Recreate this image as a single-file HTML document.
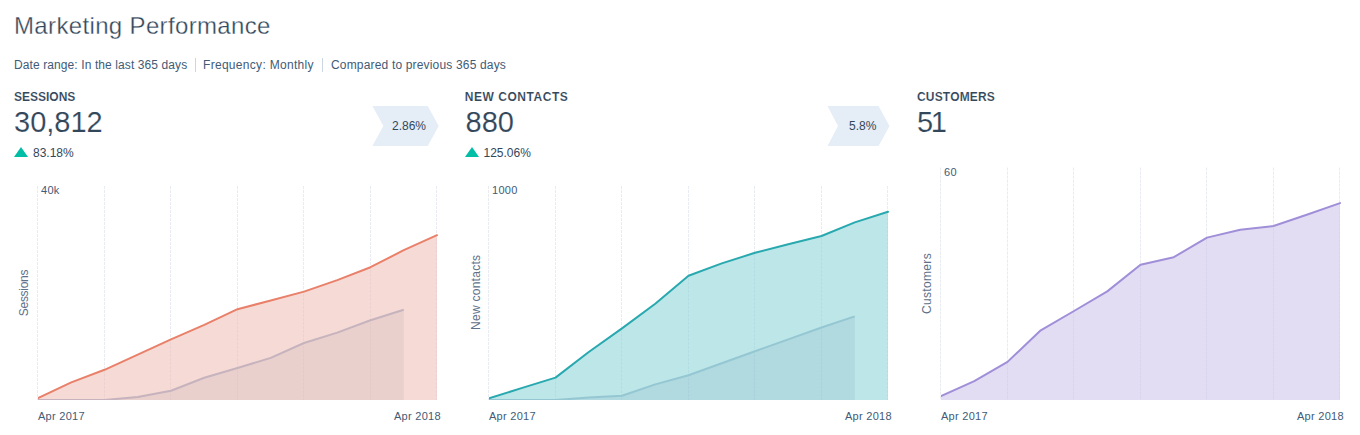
<!DOCTYPE html>
<html><head><meta charset="utf-8">
<style>
*{margin:0;padding:0;box-sizing:border-box}
html,body{width:1360px;height:435px;overflow:hidden;background:#fff}
body{font-family:"Liberation Sans",sans-serif;color:#33475b;position:relative}
.a{position:absolute;white-space:nowrap;line-height:1}
.title{left:14px;top:14px;font-size:24px;color:#33475b;letter-spacing:0.35px;-webkit-text-stroke:0.3px #fff}
.filt{top:59px;font-size:12px;color:#425b76}
.sep{position:absolute;top:58px;width:1px;height:14px;background:#cbd6e2}
.lbl{top:91px;font-size:12px;font-weight:bold;color:#33475b;-webkit-text-stroke:0.1px #fff}
.big{top:108px;font-size:29px;color:#33475b;-webkit-text-stroke:0.15px #fff}
.pct{top:147px;font-size:12px;color:#33475b}
.tri{position:absolute;top:147px;width:0;height:0;border-left:7px solid transparent;border-right:7px solid transparent;border-bottom:10px solid #00bda5}
.chev{position:absolute;top:106px;height:40px}
.ctext{top:120px;font-size:12px;color:#33475b}
.ax{font-size:11px;color:#425b76;letter-spacing:0.28px}
.ytitle{font-size:12px;color:#5d718a;transform:rotate(-90deg);transform-origin:center center}
svg{position:absolute;left:0;top:0}
</style></head><body>
<svg width="1360" height="435" viewBox="0 0 1360 435">
<polygon points="372.4,106 427.7,106 438.7,126 427.7,146 372.4,146 383.4,126" fill="#e5edf6"/>
<polygon points="827.5,106 878.5,106 889.5,126 878.5,146 827.5,146 838,126" fill="#e5edf6"/>
<clipPath id="cp0"><rect x="38" y="0" width="440" height="400"/></clipPath>
<line x1="37.5" y1="186" x2="37.5" y2="400" stroke="#e8ecf2" stroke-width="1" stroke-dasharray="3,1"/>
<line x1="104.5" y1="186" x2="104.5" y2="400" stroke="#e8ecf2" stroke-width="1" stroke-dasharray="3,1"/>
<line x1="170.5" y1="186" x2="170.5" y2="400" stroke="#e8ecf2" stroke-width="1" stroke-dasharray="3,1"/>
<line x1="237.5" y1="186" x2="237.5" y2="400" stroke="#e8ecf2" stroke-width="1" stroke-dasharray="3,1"/>
<line x1="303.5" y1="186" x2="303.5" y2="400" stroke="#e8ecf2" stroke-width="1" stroke-dasharray="3,1"/>
<line x1="370.5" y1="186" x2="370.5" y2="400" stroke="#e8ecf2" stroke-width="1" stroke-dasharray="3,1"/>
<line x1="436.5" y1="186" x2="436.5" y2="400" stroke="#e8ecf2" stroke-width="1" stroke-dasharray="3,1"/>
<g clip-path="url(#cp0)">
<path d="M38.0,398.1 L71.25,382.4 L104.5,369.8 L137.75,354.6 L171.0,339.3 L204.25,324.9 L237.5,309.2 L270.75,300.5 L304.0,291.6 L337.25,280.1 L370.5,267.2 L403.75,250.2 L437.0,235.2 L437.0,400 L38.0,400 Z" fill="rgb(237,181,171)" fill-opacity="0.5"/>
<path d="M38.0,400 L71.25,400 L104.5,400 L137.75,397.1 L171.0,390.7 L204.25,377.8 L237.5,368.0 L270.75,357.9 L304.0,343.0 L337.25,332.6 L370.5,320.2 L403.75,309.8 L403.75,400 L38.0,400 Z" fill="rgba(212,192,192,0.38)"/>
<path d="M38.0,400 L71.25,400 L104.5,400 L137.75,397.1 L171.0,390.7 L204.25,377.8 L237.5,368.0 L270.75,357.9 L304.0,343.0 L337.25,332.6 L370.5,320.2 L403.75,309.8" fill="none" stroke="#c6b3bd" stroke-width="2" stroke-linejoin="round"/>
<path d="M38.0,398.1 L71.25,382.4 L104.5,369.8 L137.75,354.6 L171.0,339.3 L204.25,324.9 L237.5,309.2 L270.75,300.5 L304.0,291.6 L337.25,280.1 L370.5,267.2 L403.75,250.2 L437.0,235.2" fill="none" stroke="#e8806a" stroke-width="2" stroke-linejoin="round" stroke-linecap="round"/>
</g>
<clipPath id="cp1"><rect x="489" y="0" width="440" height="400"/></clipPath>
<line x1="488.5" y1="186" x2="488.5" y2="400" stroke="#e8ecf2" stroke-width="1" stroke-dasharray="3,1"/>
<line x1="555.5" y1="186" x2="555.5" y2="400" stroke="#e8ecf2" stroke-width="1" stroke-dasharray="3,1"/>
<line x1="621.5" y1="186" x2="621.5" y2="400" stroke="#e8ecf2" stroke-width="1" stroke-dasharray="3,1"/>
<line x1="688.5" y1="186" x2="688.5" y2="400" stroke="#e8ecf2" stroke-width="1" stroke-dasharray="3,1"/>
<line x1="754.5" y1="186" x2="754.5" y2="400" stroke="#e8ecf2" stroke-width="1" stroke-dasharray="3,1"/>
<line x1="821.5" y1="186" x2="821.5" y2="400" stroke="#e8ecf2" stroke-width="1" stroke-dasharray="3,1"/>
<line x1="887.5" y1="186" x2="887.5" y2="400" stroke="#e8ecf2" stroke-width="1" stroke-dasharray="3,1"/>
<g clip-path="url(#cp1)">
<path d="M489.0,398.3 L522.25,387.9 L555.5,377.6 L588.75,352.0 L622.0,328.4 L655.25,303.8 L688.5,275.8 L721.75,263.4 L755.0,252.8 L788.25,244.2 L821.5,236.0 L854.75,222.4 L888.0,211.8 L888.0,400 L489.0,400 Z" fill="rgb(123,205,209)" fill-opacity="0.5"/>
<path d="M489.0,400 L522.25,400 L555.5,400 L588.75,397.6 L622.0,395.8 L655.25,384.4 L688.5,375.3 L721.75,363.2 L755.0,351.2 L788.25,339.4 L821.5,327.5 L854.75,316.4 L854.75,400 L489.0,400 Z" fill="rgba(150,190,205,0.3)"/>
<path d="M489.0,400 L522.25,400 L555.5,400 L588.75,397.6 L622.0,395.8 L655.25,384.4 L688.5,375.3 L721.75,363.2 L755.0,351.2 L788.25,339.4 L821.5,327.5 L854.75,316.4" fill="none" stroke="#95c7d3" stroke-width="2" stroke-linejoin="round"/>
<path d="M489.0,398.3 L522.25,387.9 L555.5,377.6 L588.75,352.0 L622.0,328.4 L655.25,303.8 L688.5,275.8 L721.75,263.4 L755.0,252.8 L788.25,244.2 L821.5,236.0 L854.75,222.4 L888.0,211.8" fill="none" stroke="#28a8af" stroke-width="2" stroke-linejoin="round" stroke-linecap="round"/>
</g>
<clipPath id="cp2"><rect x="941" y="0" width="440" height="400"/></clipPath>
<line x1="940.5" y1="167.6" x2="940.5" y2="400" stroke="#e8ecf2" stroke-width="1" stroke-dasharray="3,1"/>
<line x1="1007.5" y1="167.6" x2="1007.5" y2="400" stroke="#e8ecf2" stroke-width="1" stroke-dasharray="3,1"/>
<line x1="1073.5" y1="167.6" x2="1073.5" y2="400" stroke="#e8ecf2" stroke-width="1" stroke-dasharray="3,1"/>
<line x1="1140.5" y1="167.6" x2="1140.5" y2="400" stroke="#e8ecf2" stroke-width="1" stroke-dasharray="3,1"/>
<line x1="1206.5" y1="167.6" x2="1206.5" y2="400" stroke="#e8ecf2" stroke-width="1" stroke-dasharray="3,1"/>
<line x1="1273.5" y1="167.6" x2="1273.5" y2="400" stroke="#e8ecf2" stroke-width="1" stroke-dasharray="3,1"/>
<line x1="1339.5" y1="167.6" x2="1339.5" y2="400" stroke="#e8ecf2" stroke-width="1" stroke-dasharray="3,1"/>
<g clip-path="url(#cp2)">
<path d="M941.0,396.0 L974.25,381.1 L1007.5,361.9 L1040.75,330.3 L1074.0,311.0 L1107.25,291.4 L1140.5,264.8 L1173.75,257.2 L1207.0,237.6 L1240.25,229.7 L1273.5,226.0 L1306.75,214.8 L1340.0,203.1 L1340.0,400 L941.0,400 Z" fill="rgb(197,187,231)" fill-opacity="0.5"/>
<path d="M941.0,396.0 L974.25,381.1 L1007.5,361.9 L1040.75,330.3 L1074.0,311.0 L1107.25,291.4 L1140.5,264.8 L1173.75,257.2 L1207.0,237.6 L1240.25,229.7 L1273.5,226.0 L1306.75,214.8 L1340.0,203.1" fill="none" stroke="#a08fd8" stroke-width="2" stroke-linejoin="round" stroke-linecap="round"/>
</g>
</svg>
<div class="a title">Marketing Performance</div>
<div class="a filt" style="left:14px;letter-spacing:0.1px">Date range: In the last 365 days</div>
<div class="sep" style="left:195px"></div>
<div class="a filt" style="left:203px;letter-spacing:0.3px">Frequency: Monthly</div>
<div class="sep" style="left:322px"></div>
<div class="a filt" style="left:331px;letter-spacing:0.17px">Compared to previous 365 days</div>

<div class="a lbl" style="left:14px">SESSIONS</div>
<div class="a big" style="left:14px">30,812</div>
<div class="tri" style="left:14px"></div>
<div class="a pct" style="left:33px">83.18%</div>
<div class="a ctext" style="left:392px">2.86%</div>

<div class="a lbl" style="left:464.7px;letter-spacing:0.55px">NEW CONTACTS</div>
<div class="a big" style="left:465.5px">880</div>
<div class="tri" style="left:465px"></div>
<div class="a pct" style="left:483.5px">125.06%</div>
<div class="a ctext" style="left:849px">5.8%</div>

<div class="a lbl" style="left:917px;letter-spacing:0.17px">CUSTOMERS</div>
<div class="a big" style="left:917px;letter-spacing:-2.5px">51</div>

<div class="a ax" style="left:41px;top:185px">40k</div>
<div class="a ax" style="left:492px;top:185px">1000</div>
<div class="a ax" style="left:944px;top:167px">60</div>

<div class="a ax" style="left:38px;top:411px">Apr 2017</div>
<div class="a ax" style="left:394px;top:411px">Apr 2018</div>
<div class="a ax" style="left:489px;top:411px">Apr 2017</div>
<div class="a ax" style="left:845px;top:411px">Apr 2018</div>
<div class="a ax" style="left:941px;top:411px">Apr 2017</div>
<div class="a ax" style="left:1297px;top:411px">Apr 2018</div>

<div class="a ytitle" style="left:0.3px;top:287.2px;width:48px;text-align:center;letter-spacing:-0.28px">Sessions</div>
<div class="a ytitle" style="left:440px;top:287.7px;width:72px;text-align:center;letter-spacing:0.27px">New contacts</div>
<div class="a ytitle" style="left:897px;top:277.8px;width:60px;text-align:center;letter-spacing:0.33px">Customers</div>
</body></html>
